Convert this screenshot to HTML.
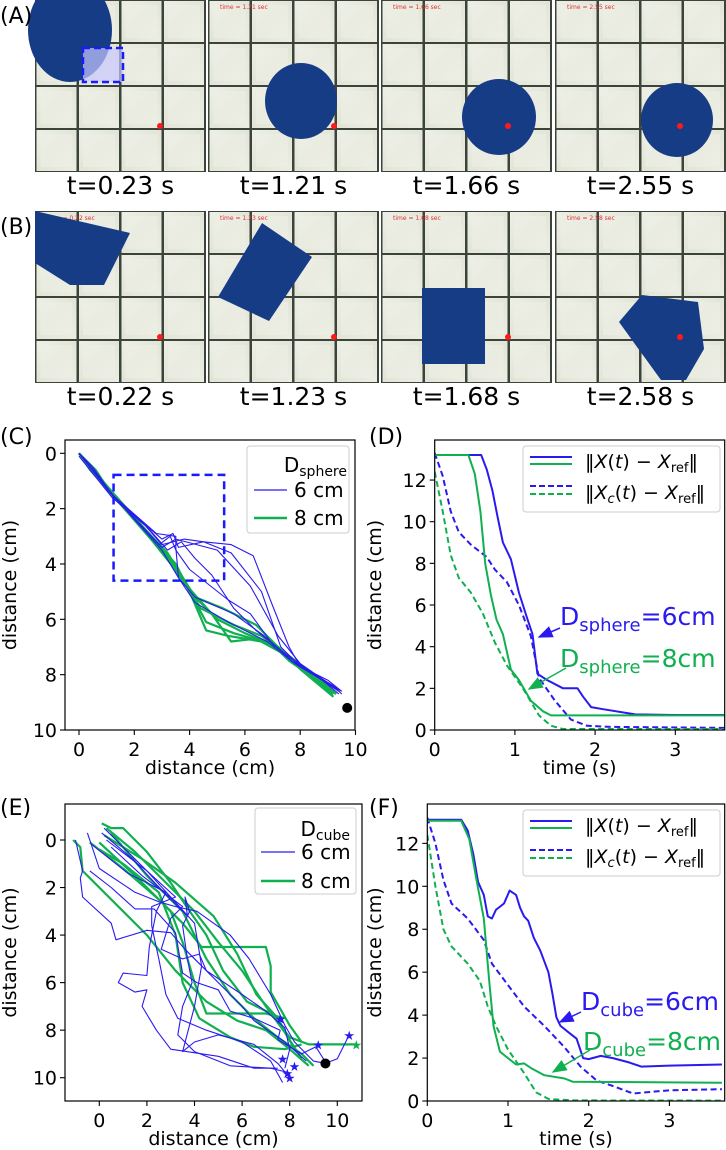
<!DOCTYPE html>
<html><head><meta charset="utf-8"><style>
html,body{margin:0;padding:0;background:#fff;}
svg{display:block;font-family:"DejaVu Sans","Liberation Sans",sans-serif;}
</style></head><body>
<svg id="fig" width="726" height="1150" viewBox="0 0 726 1150" xmlns="http://www.w3.org/2000/svg">
<defs>
<marker id="ab" markerWidth="10" markerHeight="8" refX="9" refY="4" orient="auto"><path d="M0,0 L10,4 L0,8 z" fill="#2a1af0"/></marker>
<marker id="ag" markerWidth="10" markerHeight="8" refX="9" refY="4" orient="auto"><path d="M0,0 L10,4 L0,8 z" fill="#10b050"/></marker>
<clipPath id="cc"><rect x="65" y="440" width="290" height="290"/></clipPath>
<clipPath id="cd"><rect x="434.7" y="440" width="290" height="290"/></clipPath>
<clipPath id="ce"><rect x="65" y="804" width="297" height="297"/></clipPath>
<clipPath id="cf"><rect x="427.3" y="804" width="297.4" height="297"/></clipPath>
<linearGradient id="cubeg" x1="0" y1="0" x2="1" y2="1"><stop offset="0" stop-color="#eef0e6"/><stop offset="0.5" stop-color="#e2e5d6"/><stop offset="1" stop-color="#eceee2"/></linearGradient>
</defs>
</svg>
<script>
// ---------- DATA ----------
var photoTimesA = ["t=0.23 s","t=1.21 s","t=1.66 s","t=2.55 s"];
var photoTimesB = ["t=0.22 s","t=1.23 s","t=1.68 s","t=2.58 s"];
var cTicksX = [0,2,4,6,8,10];
var cTicksY = [0,2,4,6,8,10];
var timeTicks = [0,1,2,3];
var distTicks = [0,2,4,6,8,10,12];
var eTicks = [0,2,4,6,8,10];
var cBlue = [
 [0,0,0.6,0.7,1.3,1.6,2.2,2.4,3.0,3.1,3.4,2.9,3.6,3.4,4.5,3.2,5.5,3.3,6.3,3.7,7.0,5.5,7.6,7.0,8.0,7.7,9.0,8.2,9.5,8.6],
 [0,0,0.5,0.5,1.2,1.5,2.3,2.5,3.0,3.3,3.8,3.1,4.5,3.2,5.5,3.6,6.6,5.0,7.3,7.0,8,7.7,9.2,8.4,9.5,8.7],
 [0,0.1,1.2,1.6,2.5,2.7,3.2,3.5,3.7,3.2,4.2,3.8,4.8,4.4,5.6,5.6,6.4,6.4,7.4,7.2,8.5,8.0,9.4,8.6],
 [0,0,1.2,1.5,2.8,2.9,3.5,3.0,3.5,3.4,3.6,4.5,4.2,5.4,5.4,6.1,6.8,6.8,7.8,7.6,8.8,8.2,9.4,8.7],
 [0,0,1.3,1.6,3.0,3.5,3.6,4.5,4.2,5.2,5.6,5.8,6.7,6.6,7.7,7.5,9.0,8.3,9.5,8.6],
 [0,0,1.2,1.5,3.0,3.4,3.5,3.1,5.0,3.5,6.2,4.8,7.2,6.6,8.0,7.6,9.3,8.5],
 [0,0,1.1,1.4,2.9,3.3,3.3,3.0,3.5,3.5,4.0,4.2,5.4,5.3,6.2,5.8,7.0,6.9,8.2,7.8,9.4,8.6]
];
var cGreen = [
 [0,0,0.6,0.6,1.2,1.5,2.5,2.9,3.5,4.0,4.0,5.0,4.6,6.4,5.4,6.6,6.6,6.8,7.5,7.3,8.2,7.9,9.2,8.7],
 [0,0,1.2,1.5,2.6,3.1,3.8,4.6,4.4,5.6,5.6,6.2,6.6,6.6,7.4,7.2,8.5,8.1,9.3,8.7],
 [0,0,1.2,1.4,2.8,3.2,4,4.9,4.8,5.8,5.5,6.8,6.4,6.7,7.5,7.3,8,7.8,9.2,8.8],
 [0,0,1.3,1.6,3.2,3.6,4.2,5.2,5.2,5.6,6.4,6.2,7.3,7.1,8.5,8.0,9.3,8.7],
 [0,0,1.2,1.5,3,3.4,3.9,4.8,4.6,6.1,5.6,6.5,7,6.9,7.6,7.5,9.2,8.6],
 [0,0,0.4,0.6,1.2,1.5,2.9,3.4,4.1,5.1,5.0,6.0,6.0,6.5,7.2,7.0,8.3,8.0,9.2,8.7]
];
var dBlueSolid = [0,13.2,0.58,13.2,0.65,12.5,0.72,11.5,0.78,10.3,0.85,9.0,0.95,8.2,1.05,6.6,1.15,5.4,1.22,4.6,1.28,2.7,1.4,2.4,1.6,2.0,1.78,2.0,1.85,1.6,1.95,1.1,2.1,1.0,2.5,0.75,3.0,0.72,3.65,0.72];
var dGreenSolid = [0,13.2,0.42,13.2,0.5,12.3,0.57,10.5,0.63,8.0,0.7,6.5,0.77,5.3,0.85,4.6,0.95,2.9,1.05,2.4,1.2,1.4,1.35,0.9,1.45,0.7,3.65,0.7];
var dBlueDash = [0,13.3,0.1,12.2,0.2,10.5,0.3,9.5,0.45,8.9,0.65,8.3,0.75,7.7,0.9,7.1,1.05,6.0,1.2,4.5,1.3,2.5,1.5,1.4,1.7,0.5,1.9,0.2,2.2,0.15,3.65,0.1];
var dGreenDash = [0,12.4,0.1,10.5,0.2,8.4,0.3,7.3,0.45,6.6,0.6,5.6,0.75,4.2,0.9,3.1,1.1,2.0,1.3,0.7,1.45,0.2,1.6,0.05,3.65,0.05];
var eGreen = [
 [0.1,-0.7,0.5,-0.5,1,-0.5,2,0.5,3,1.8,3.8,3.0,4.5,4.0,5.2,5.5,6.2,6.8,7.2,7.3,8,8.3,8.8,8.6,10.8,8.6],
 [-1.1,0,-0.8,0.3,-0.7,1.3,1,3,2,4,3.2,5.5,4.5,6.8,5.8,7.6,7,8.0,8,8.8,8.8,9.5],
 [0.3,-0.5,1.5,0.5,3,2,4,3,5,4.3,6,5.5,7,7,7.8,8.1,8.5,9.2],
 [-0.4,0.1,1,1.2,2.5,2.5,3.5,3.5,4.3,4.5,6,4.5,7,4.5,7.2,5.3,7.2,6.4,8,7.8,8.5,8.5],
 [0,0.1,1.5,1.5,3,3,3.5,4.3,4,6,4.5,7.3,6,7.3,7,7.3,7.8,7.5],
 [0.5,-0.3,2,1.5,3.5,3,4.5,5,5.5,6.5,6.5,7.5,7.5,8.3,8.5,9.0,9,9.5],
 [0,0.4,1,1,2.5,2.2,3.2,4,3.5,6,4.2,7.5,5.5,8.3,6.5,8.7,7.8,8.8,8.5,8.6],
 [0.2,-0.2,1.8,0.8,3.2,1.8,4.8,3.2,5.8,4.8,6.6,6.5,7.5,7.5,8.2,8.8]
];
var eBlue = [
 [-1,0,-0.7,1.3,-0.8,1.6,-0.7,2.4,0.5,3.5,0.7,4.2,2,3.8,3,3.9,3.6,4.6,4.5,5.5,6,6.5,7,7.2,7.8,7.9,8,8.8,7.8,9.6],
 [-0.5,-0.3,0,1.2,1.5,2.2,2.5,2.6,3.2,2.8,4.1,3.0,5.5,4,6.3,5,7.2,6.5,7.8,7.8,8.2,8.5,9,9.3,9.5,9.4,10,9.2,10.5,8.2],
 [0.2,-0.5,1,0.3,2,1.3,3,2.4,4,3.5,4.3,5.3,4,7,3.5,8.9,4,8.5,5,8.2,6.5,8.6,7.5,9.4,8,10],
 [0.1,-0.3,1.4,0.8,2.6,2.1,3.7,3.2,3.6,2.4,3.8,3.0,3.5,3.6,3.7,5,3.9,6,3.5,7,3.3,8.2,4,8.9,5.5,9.5,7.2,9.6,8,9.8],
 [0.3,0,2,1.3,3.2,2.4,2.2,2.8,2.2,3.6,2.5,5.0,2.8,6.5,3.3,7.5,4.5,8,6,8.5,7.2,9.3,7.7,10.2],
 [-0.3,0.2,1.2,1.4,2.8,2.2,2.4,3,2.1,4.5,2,5.7,1,5.6,0.8,6.0,1.5,6.4,2,6.3,1.8,7.0,2.4,8,3,8.8,5,9.1,6.5,9.6,7.5,9.6],
 [0.5,0.3,1.8,1.5,3.5,2.8,3,3.3,2.6,4.6,3.5,5,4.2,4.8,4.5,5.5,5.5,6.5,6,7.0,6.5,7.6,7.8,8.5,8.7,9.3],
 [-0.4,1.3,0.5,2,1.5,2.9,2.3,2.9,3.2,3.9,3.5,5.6,4.1,6,5,6.3,5.5,7.2,6.5,7.5,7.6,8.0,7.5,8.4,8.5,9.0,9.1,8.7,9.6,9.5]
];
var eBlueStars = [7.7,9.2,7.9,9.8,8.0,10.0,7.6,7.5,9.2,8.6,10.5,8.2,8.2,9.5];
var fBlueSolid = [0,13.1,0.42,13.1,0.5,12.6,0.57,11.5,0.63,10.2,0.7,9.6,0.75,8.6,0.8,8.5,0.85,8.9,0.95,9.2,1.02,9.8,1.1,9.6,1.15,9.0,1.2,8.6,1.25,8.4,1.32,7.6,1.4,7.0,1.5,6.0,1.55,5.0,1.6,3.9,1.65,3.5,1.75,3.2,1.85,2.9,1.93,2.0,2.0,1.95,2.15,2.1,2.3,2.0,2.5,1.8,2.65,1.6,3.0,1.65,3.65,1.7];
var fGreenSolid = [0,13.05,0.42,13.05,0.52,12.2,0.6,10.5,0.7,8.5,0.77,5.5,0.82,3.5,0.9,2.3,1.0,2.0,1.1,1.7,1.2,1.75,1.3,1.5,1.45,1.2,1.7,1.05,1.8,0.9,3.65,0.85];
var fBlueDash = [0,13.2,0.1,12.0,0.2,10.3,0.3,9.2,0.5,8.5,0.7,7.5,0.8,6.4,1.0,5.4,1.2,4.4,1.45,3.5,1.7,2.5,1.9,1.6,2.1,0.95,2.3,0.7,2.55,0.35,2.7,0.4,3.0,0.5,3.65,0.55];
var fGreenDash = [0,12.4,0.1,10.0,0.2,8.0,0.3,7.2,0.5,6.4,0.65,5.6,0.75,4.4,0.85,3.5,1.0,2.4,1.2,1.3,1.35,0.4,1.5,0.1,1.8,0.03,3.65,0.02];

// ---------- HELPERS ----------
var NS="http://www.w3.org/2000/svg";
var svg=document.getElementById('fig');
var BLUE="#2a1af0", GREEN="#10b050";
var FS=19;
function mk(tag,attrs,parent){var e=document.createElementNS(NS,tag);for(var k in attrs)e.setAttribute(k,attrs[k]);(parent||svg).appendChild(e);return e;}
function txt(x,y,s,size,anchor,parent,fill){var t=mk('text',{x:x,y:y,'font-size':size,'text-anchor':anchor||'start',fill:fill||'#000'},parent);t.textContent=s;return t;}
function makeAxes(name){
  var g=mk('g',{});
  
  
  return g;
}
function poly(arr,sx,sy,stroke,w,dash,parent,clip){
  var pts=[];for(var i=0;i<arr.length;i+=2)pts.push(sx(arr[i]).toFixed(1)+','+sy(arr[i+1]).toFixed(1));
  var a={points:pts.join(' '),fill:'none',stroke:stroke,'stroke-width':w,'stroke-linejoin':'round'};
  if(dash)a['stroke-dasharray']=dash; if(clip)a['clip-path']='url(#'+clip+')';
  return mk('polyline',a,parent);
}

// ---------- PHOTOS ----------
var photoX=[35,208,381,555], PW=171, PH=172;
function photo(px,py,idx,row){
  var g=mk('g',{});
  
  
  mk('rect',{x:px,y:py,width:PW,height:PH,fill:'#3a443c'},g);
  for(var r=0;r<4;r++)for(var c=0;c<4;c++){
    var cx=px+1.5+c*42.5, cy=py+1+r*43;
    mk('rect',{x:cx,y:cy,width:40,height:41,fill:'url(#cubeg)'},g);
    mk('rect',{x:cx+4,y:cy+4,width:32,height:33,fill:'#eef0e8','fill-opacity':0.6},g);
  }
  var ft=mk('text',{x:px+12,y:py+9,'font-size':6,fill:'#e03030'},g);ft.textContent='time = '+(row==='a'?photoTimesA:photoTimesB)[idx].slice(2,6)+' sec';
  return g;
}
for(var i=0;i<4;i++){photo(photoX[i],0,i,'a');photo(photoX[i],211,i,'b');}
var OBJ="#173c86";
mk('ellipse',{cx:70,cy:30,rx:42,ry:52,fill:OBJ});
mk('rect',{x:83,y:48,width:40,height:34,fill:'rgba(200,200,255,0.7)',stroke:'#1a1aff','stroke-width':2.5,'stroke-dasharray':'7,4'});
mk('ellipse',{cx:301,cy:101,rx:36,ry:38,fill:OBJ});
mk('ellipse',{cx:499,cy:117,rx:37,ry:38,fill:OBJ});
mk('ellipse',{cx:677,cy:120,rx:36,ry:37,fill:OBJ});
mk('polygon',{points:'35,211 130,233 104,285 70,285 35,263',fill:OBJ});
mk('polygon',{points:'262,223 312,257 269,321 218,297',fill:OBJ});
mk('rect',{x:422,y:288,width:63,height:76,fill:OBJ});
mk('polygon',{points:'619,322 642,295 698,302 704,349 686,380 661,380',fill:OBJ});
[[160,126],[334,126],[508,126],[680,126],[160,337],[334,337],[508,337],[680,337]].forEach(function(p){mk('circle',{cx:p[0],cy:p[1],r:3,fill:'#ff1a1a'});});
for(var i=0;i<4;i++){
  var t1=txt(photoX[i]+PW/2,194,photoTimesA[i],25,'middle');
  
  
  var t2=txt(photoX[i]+PW/2,405,photoTimesB[i],25,'middle');
  
  
}
var la=txt(0,23,'(A)',22);
var lb=txt(0,234,'(B)',22);

function frame(g,x0,y0,x1,y1,xt,yt,sx,sy,xlabel,ylabel,ylx,plabel,plx,ply){
  mk('rect',{x:x0,y:y0,width:x1-x0,height:y1-y0,fill:'none',stroke:'#000','stroke-width':1.2},g);
  xt.forEach(function(v){var X=sx(v);mk('line',{x1:X,y1:y1,x2:X,y2:y1+5,stroke:'#000','stroke-width':1.1},g);
    var t=txt(X,y1+26,String(v),FS,'middle',g);});
  yt.forEach(function(v){var Y=sy(v);mk('line',{x1:x0,y1:Y,x2:x0-5,y2:Y,stroke:'#000','stroke-width':1.1},g);
    var t=txt(x0-8,Y+7,String(v),FS,'end',g);});
  var xl=txt((x0+x1)/2,y1+44,xlabel,FS,'middle',g);
  var yc=(y0+y1)/2;
  var yl=txt(ylx,yc,ylabel,FS,'middle',g);yl.setAttribute('transform','rotate(-90 '+ylx+' '+yc+')');
  
  var pl=txt(plx,ply,plabel,22,'start',g);
}

// ---------- Panel C ----------
(function(){
  var sx=function(v){return 79+27.65*v;}, sy=function(v){return 453.3+27.67*v;};
  var g=makeAxes('panel-c-trajectories');
  cGreen.forEach(function(a){var p=poly(a,sx,sy,GREEN,2.2,null,g,'cc');});
  cBlue.forEach(function(a){var p=poly(a,sx,sy,BLUE,1.1,null,g,'cc');});
  var box=mk('rect',{x:sx(1.25),y:sy(0.78),width:sx(5.25)-sx(1.25),height:sy(4.6)-sy(0.78),fill:'none',stroke:'#1a1aff','stroke-width':2.5,'stroke-dasharray':'8,5'},g);
  
  var dot=mk('circle',{cx:sx(9.7),cy:sy(9.2),r:5,fill:'#000'},g);
  frame(g,65,440,355,730,cTicksX,cTicksY,sx,sy,'distance (cm)','distance (cm)',16,'(C)',0,444);
  var lg=mk('g',{},g);
  mk('rect',{x:247,y:446,width:102,height:87,rx:3,fill:'#fff','fill-opacity':0.85,stroke:'#ccc'},lg);
  var t=mk('text',{x:347,y:472,'font-size':20,'text-anchor':'end'},lg);t.innerHTML='D<tspan font-size="14" dy="4">sphere</tspan>';
  mk('line',{x1:254,y1:490,x2:287,y2:490,stroke:BLUE,'stroke-width':1.2},lg);txt(294,497,'6 cm',20,'start',lg);
  mk('line',{x1:254,y1:518,x2:287,y2:518,stroke:GREEN,'stroke-width':2.4},lg);txt(294,525,'8 cm',20,'start',lg);
})();

function normLegend(g,y){
  var lg=mk('g',{},g);
  mk('rect',{x:523,y:y,width:197,height:66,rx:3,fill:'#fff','fill-opacity':0.85,stroke:'#ccc'},lg);
  mk('line',{x1:530,y1:y+11,x2:572,y2:y+11,stroke:BLUE,'stroke-width':2},lg);
  mk('line',{x1:530,y1:y+18,x2:572,y2:y+18,stroke:GREEN,'stroke-width':2},lg);
  mk('line',{x1:530,y1:y+40,x2:572,y2:y+40,stroke:BLUE,'stroke-width':2,'stroke-dasharray':'6,3'},lg);
  mk('line',{x1:530,y1:y+48,x2:572,y2:y+48,stroke:GREEN,'stroke-width':2,'stroke-dasharray':'6,3'},lg);
  var a=mk('text',{x:585,y:y+22,'font-size':19},lg);a.innerHTML='‖<tspan font-style="italic">X</tspan>(<tspan font-style="italic">t</tspan>) − <tspan font-style="italic">X</tspan><tspan font-size="13" dy="4">ref</tspan><tspan dy="-4">‖</tspan>';
  var b=mk('text',{x:585,y:y+53,'font-size':19},lg);b.innerHTML='‖<tspan font-style="italic">X</tspan><tspan font-size="13" font-style="italic" dy="4">c</tspan><tspan dy="-4">(</tspan><tspan font-style="italic">t</tspan>) − <tspan font-style="italic">X</tspan><tspan font-size="13" dy="4">ref</tspan><tspan dy="-4">‖</tspan>';
}
function annot(g,x,y,sub,rest,color,ax1,ay1,ax2,ay2,mid,name){
  var t=mk('text',{x:x,y:y,'font-size':25,fill:color},g);t.innerHTML='D<tspan font-size="18" dy="6">'+sub+'</tspan><tspan dy="-6">'+rest+'</tspan>';
  
  mk('line',{x1:ax1,y1:ay1,x2:ax2,y2:ay2,stroke:color,'stroke-width':1.5,'marker-end':'url(#'+mid+')'},g);
}

// ---------- Panel D ----------
(function(){
  var sx=function(v){return 434.7+80.2*v;}, sy=function(v){return 730-20.83*v;};
  var g=makeAxes('panel-d-distance-vs-time');
  var s=[[dBlueDash,BLUE,'6,3.5','sphere-6cm-center-distance'],[dGreenDash,GREEN,'6,3.5','sphere-8cm-center-distance'],[dBlueSolid,BLUE,null,'sphere-6cm-distance'],[dGreenSolid,GREEN,null,'sphere-8cm-distance']];
  s.forEach(function(q){var p=poly(q[0],sx,sy,q[1],2,q[2],g,'cd');});
  frame(g,434.7,440,724.7,730,timeTicks,distTicks,sx,sy,'time (s)','distance (cm)',381,'(D)',369,444);
  normLegend(g,446);
  annot(g,560,625,'sphere','=6cm',BLUE,560,628,539,637,'ab','annotation-6cm');
  annot(g,560,667,'sphere','=8cm',GREEN,566,668,529,689,'ag','annotation-8cm');
})();

// ---------- Panel E ----------
(function(){
  var sx=function(v){return 99.3+23.8*v;}, sy=function(v){return 840+23.77*v;};
  var g=makeAxes('panel-e-trajectories');
  eGreen.forEach(function(a){var p=poly(a,sx,sy,GREEN,2.2,null,g,'ce');});
  eBlue.forEach(function(a){var p=poly(a,sx,sy,BLUE,1.1,null,g,'ce');});
  for(var i=0;i<eBlueStars.length;i+=2){var st=txt(sx(eBlueStars[i]),sy(eBlueStars[i+1])+5,'★',13,'middle',g,BLUE);}
  var st2=txt(sx(10.8),sy(8.6)+5,'★',13,'middle',g,GREEN);
  var dot=mk('circle',{cx:sx(9.5),cy:sy(9.4),r:5,fill:'#000'},g);
  frame(g,65,804,362,1101,eTicks,eTicks,sx,sy,'distance (cm)','distance (cm)',16,'(E)',0,815);
  var lg=mk('g',{},g);
  mk('rect',{x:255,y:808,width:101,height:86,rx:3,fill:'#fff','fill-opacity':0.85,stroke:'#ccc'},lg);
  var t=mk('text',{x:350,y:836,'font-size':20,'text-anchor':'end'},lg);t.innerHTML='D<tspan font-size="14" dy="4">cube</tspan>';
  mk('line',{x1:261,y1:852,x2:295,y2:852,stroke:BLUE,'stroke-width':1.2},lg);txt(301,859,'6 cm',20,'start',lg);
  mk('line',{x1:261,y1:881,x2:295,y2:881,stroke:GREEN,'stroke-width':2.4},lg);txt(301,888,'8 cm',20,'start',lg);
})();

// ---------- Panel F ----------
(function(){
  var sx=function(v){return 427.3+80.7*v;}, sy=function(v){return 1101-21.47*v;};
  var g=makeAxes('panel-f-distance-vs-time');
  var s=[[fBlueDash,BLUE,'6,3.5','cube-6cm-center-distance'],[fGreenDash,GREEN,'6,3.5','cube-8cm-center-distance'],[fBlueSolid,BLUE,null,'cube-6cm-distance'],[fGreenSolid,GREEN,null,'cube-8cm-distance']];
  s.forEach(function(q){var p=poly(q[0],sx,sy,q[1],2,q[2],g,'cf');});
  frame(g,427.3,804,724.7,1101,timeTicks,distTicks,sx,sy,'time (s)','distance (cm)',381,'(F)',369,815);
  normLegend(g,810);
  annot(g,581,1010,'cube','=6cm',BLUE,581,1012,560,1022,'ab','annotation-6cm');
  annot(g,583,1050,'cube','=8cm',GREEN,590,1050,553,1072,'ag','annotation-8cm');
})();
</script>
</body></html>
